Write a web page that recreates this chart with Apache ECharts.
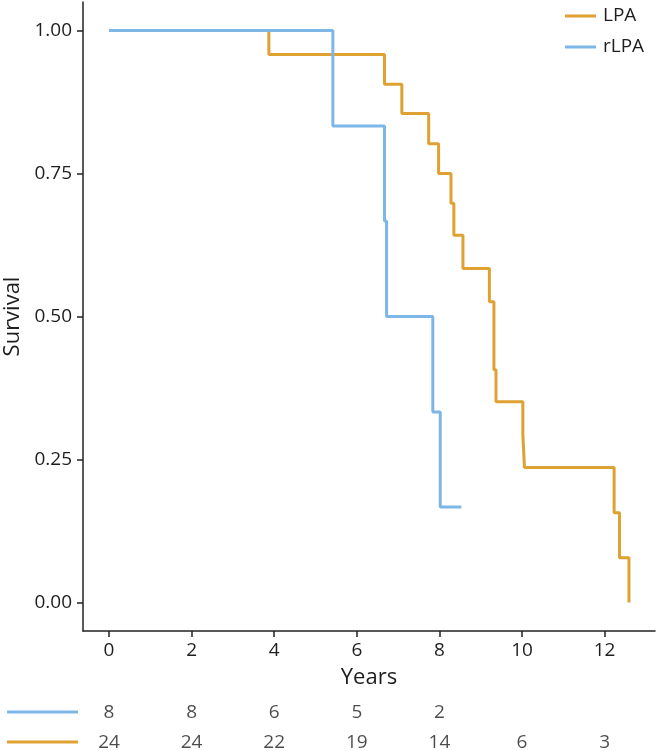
<!DOCTYPE html>
<html>
<head>
<meta charset="utf-8">
<script src="https://cdn.jsdelivr.net/npm/echarts@6/dist/echarts.min.js"></script>
<style>html,body{margin:0;padding:0;background:#fff;}#c{width:657px;height:751px;}</style>
</head>
<body>
<div id="c"></div>
<script>
// Kaplan-Meier step points: [time (years), survival]
const lpaTimes =    [0, 3.87, 6.67, 7.09, 7.74, 7.98, 8.28, 8.35, 8.57, 9.21, 9.32, 9.37, 10.02, 10.06, 12.23, 12.36, 12.59];
const lpaSurvival = [1, 0.958, 0.906, 0.855, 0.802, 0.750, 0.698, 0.642, 0.584, 0.526, 0.407, 0.351, 0.294, 0.236, 0.157, 0.078, 0.0];
const rlpaTimes =    [0, 5.42, 6.67, 6.72, 7.84, 8.02, 8.53];
const rlpaSurvival = [1, 0.833, 0.667, 0.500, 0.333, 0.167, 0.167];
const xTicks = [0, 2, 4, 6, 8, 10, 12];
const yTicks = [0, 0.25, 0.5, 0.75, 1];
const riskTimes = [0, 2, 4, 6, 8, 10, 12];
const riskRLPA = [8, 8, 6, 5, 2];
const riskLPA = [24, 24, 22, 19, 14, 6, 3];

const ORANGE = '#DFA132';
const BLUE = '#7DB7E8';
const FONT = 'Open Sans';
const TXT = '#1e1e1e';

const zip = (a, b) => a.map((v, i) => [v, b[i]]);
const xMin = -0.63, xMax = 13.22;

const riskData = [];
riskRLPA.forEach((n, i) => riskData.push([riskTimes[i], 'rLPA', n]));
riskLPA.forEach((n, i) => riskData.push([riskTimes[i], 'LPA', n]));

const chart = echarts.init(document.getElementById('c'));
chart.setOption({
  animation: false,
  textStyle: { fontFamily: FONT },
  grid: [
    { left: 83, right: 2, top: 2, bottom: 120, containLabel: false, outerBoundsMode: 'none' },
    { left: 83, right: 2, top: 698, height: 60, containLabel: false, outerBoundsMode: 'none' }
  ],
  legend: {
    orient: 'vertical',
    left: 565, top: 6, padding: 0,
    itemWidth: 31, itemHeight: 3, itemGap: 11,
    icon: 'rect',
    textStyle: { fontFamily: FONT, fontSize: 19, color: TXT, lineHeight: 20, padding: [0, 0, 0, 2] },
    data: ['LPA', 'rLPA']
  },
  xAxis: [
    {
      gridIndex: 0, type: 'value', min: xMin, max: xMax,
      name: 'Years', nameLocation: 'middle', nameGap: 36,
      nameTextStyle: { fontFamily: FONT, fontSize: 22, color: TXT },
      axisLine: { show: true, onZero: false, lineStyle: { color: '#222', width: 1.5 } },
      axisTick: { show: true, length: 6, customValues: xTicks, lineStyle: { color: '#222', width: 1.5 } },
      axisLabel: { customValues: xTicks, margin: 10, fontSize: 19, color: TXT, fontFamily: FONT },
      splitLine: { show: false }
    },
    {
      gridIndex: 1, type: 'value', min: xMin, max: xMax, show: false
    }
  ],
  yAxis: [
    {
      gridIndex: 0, type: 'value', min: -0.05, max: 1.05,
      name: 'Survival', nameLocation: 'middle', nameGap: 59, nameRotate: 90,
      nameTextStyle: { fontFamily: FONT, fontSize: 22, color: TXT },
      axisLine: { show: true, onZero: false, lineStyle: { color: '#222', width: 1.5 } },
      axisTick: { show: true, length: 6, customValues: yTicks, lineStyle: { color: '#222', width: 1.5 } },
      axisLabel: { customValues: yTicks, margin: 11, fontSize: 19, color: TXT, fontFamily: FONT,
        formatter: v => v.toFixed(2) },
      splitLine: { show: false }
    },
    {
      gridIndex: 1, type: 'category', data: ['LPA', 'rLPA'], show: false
    }
  ],
  series: [
    {
      name: 'LPA', type: 'line', step: 'end', xAxisIndex: 0, yAxisIndex: 0,
      data: zip(lpaTimes, lpaSurvival), showSymbol: false, symbol: 'none',
      color: ORANGE, lineStyle: { color: ORANGE, width: 3 }
    },
    {
      name: 'rLPA', type: 'line', step: 'end', xAxisIndex: 0, yAxisIndex: 0,
      data: zip(rlpaTimes, rlpaSurvival), showSymbol: false, symbol: 'none',
      color: BLUE, lineStyle: { color: BLUE, width: 3 }
    },
    {
      name: 'atrisk', type: 'scatter', xAxisIndex: 1, yAxisIndex: 1,
      data: riskData, symbolSize: 0, silent: true,
      label: { show: true, position: 'inside', formatter: p => String(p.value[2]),
        fontFamily: FONT, fontSize: 19, color: TXT }
    }
  ],
  graphic: [
    { type: 'line', shape: { x1: 7, y1: 712, x2: 78, y2: 712 }, style: { stroke: BLUE, lineWidth: 3 } },
    { type: 'line', shape: { x1: 7, y1: 742, x2: 78, y2: 742 }, style: { stroke: ORANGE, lineWidth: 3 } }
  ]
});
</script>
</body>
</html>
